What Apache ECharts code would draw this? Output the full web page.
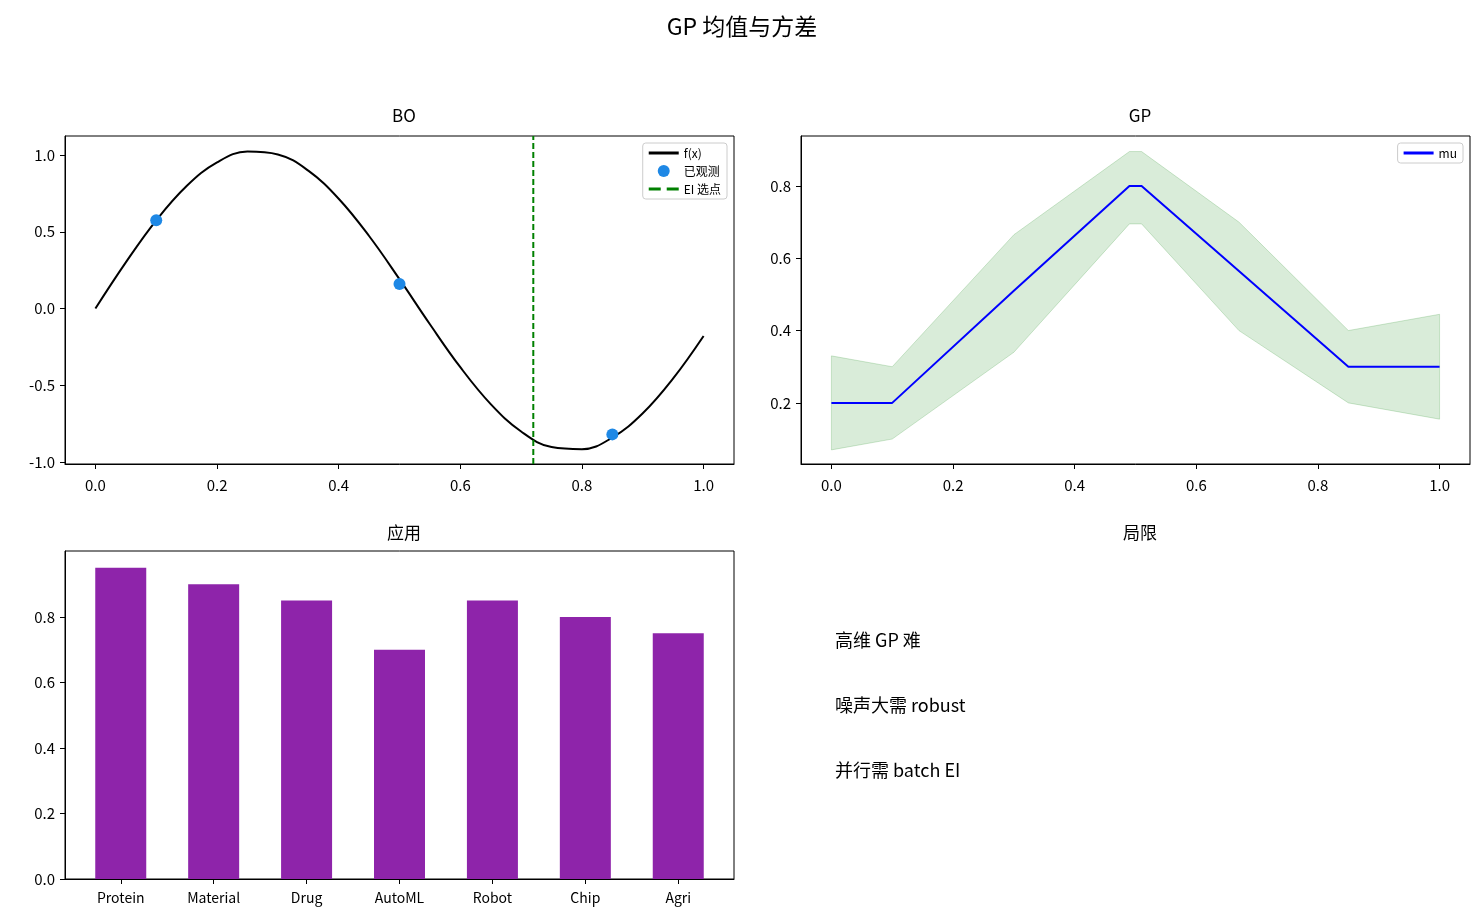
<!DOCTYPE html>
<html><head><meta charset="utf-8">
<script src="https://cdn.jsdelivr.net/npm/echarts@6/dist/echarts.min.js"></script>
<style>html,body{margin:0;padding:0;background:#fff}#c{width:1484px;height:924px}</style>
</head><body><div id="c"></div>
<script>
const fX = [0,0.05,0.1,0.15,0.2,0.25,0.3,0.35,0.4,0.45,0.5,0.55,0.6,0.65,0.7,0.75,0.8,0.85,0.9,0.95,1.0];
const fY = [0,0.3005,0.5746,0.7983,0.952,1.0225,1.0038,0.8982,0.7155,0.4724,0.1911,-0.1027,-0.3825,-0.6228,-0.8016,-0.9025,-0.9162,-0.8408,-0.6828,-0.4557,-0.1794];
const obsX = [0.1,0.5,0.85];
const obsY = [0.575,0.16,-0.82];
const eiX = 0.72;
const gpX = [0,0.1,0.3,0.49,0.51,0.67,0.85,1.0];
const gpMu = [0.2,0.2,0.51,0.8,0.8,0.565,0.3,0.3];
const gpUpper = [0.33,0.30,0.665,0.895,0.895,0.70,0.40,0.445];
const gpLower = [0.07,0.10,0.34,0.695,0.695,0.40,0.20,0.155];
const apps = ['Protein','Material','Drug','AutoML','Robot','Chip','Agri'];
const appVals = [0.95,0.9,0.85,0.7,0.85,0.8,0.75];
const limits = ['高维 GP 难','噪声大需 robust','并行需 batch EI'];

const F = "'Noto Sans CJK SC','Noto Sans',sans-serif";
const lab = {color:'#000',fontSize:15,fontFamily:F,margin:14};
function axX(gi,min,max,vals,fmt,extra){return {type:'value',gridIndex:gi,min:min,max:max,splitLine:{show:false},
  axisLine:{onZero:false,lineStyle:{color:'#000'}},axisTick:{customValues:vals,length:5,lineStyle:{color:'#000'}},
  axisLabel:Object.assign({customValues:vals,formatter:fmt},lab,extra||{})};}
function axY(gi,min,max,vals,fmt){return {type:'value',gridIndex:gi,min:min,max:max,splitLine:{show:false},
  axisLine:{show:true,onZero:false,lineStyle:{color:'#000'}},axisTick:{show:true,length:5,customValues:vals,lineStyle:{color:'#000'}},
  axisLabel:Object.assign({customValues:vals,formatter:fmt},lab,{margin:10})};}
const f1=v=>v.toFixed(1);
const xt=[0,0.2,0.4,0.6,0.8,1.0];
const box={show:true,borderColor:'#000',borderWidth:1};
const ts={fontSize:17,fontWeight:'normal',fontFamily:F,color:'#000'};
const lineIcon='path://M0,0L30,0L30,3L0,3Z';
const dashIcon='path://M0,0L12,0L12,3L0,3ZM18,0L30,0L30,3L18,3Z';
const chart=echarts.init(document.getElementById('c'));
chart.setOption({
 animation:false,
 title:[
  {text:'GP 均值与方差',left:'center',top:10,textStyle:{fontSize:23,fontWeight:'normal',fontFamily:F,color:'#000'}},
  {text:'BO',left:399,textAlign:'center',top:102,textStyle:ts},
  {text:'GP',left:1135,textAlign:'center',top:102,textStyle:ts},
  {text:'应用',left:399,textAlign:'center',top:519,textStyle:ts},
  {text:'局限',left:1135,textAlign:'center',top:519,textStyle:ts}
 ],
 graphic:limits.map((t,i)=>({type:'text',left:835,top:631+65*i,style:{text:t,fontSize:18,fontFamily:F,fill:'#000'}})),
 legend:[
  {data:[{name:'f(x)',icon:lineIcon},{name:'已观测',icon:'circle'},{name:'EI 选点',icon:dashIcon}],orient:'vertical',right:1484-727,top:143,itemGap:6,itemWidth:30,itemHeight:12,
   backgroundColor:'#fff',borderColor:'#ccc',borderWidth:1,borderRadius:3,padding:[4,6],textStyle:{fontSize:12,fontFamily:F,color:'#000'}},
  {data:[{name:'mu',icon:lineIcon}],orient:'vertical',right:1484-1463,top:143,itemWidth:30,itemHeight:12,
   borderColor:'#ccc',borderWidth:1,borderRadius:3,padding:[4,6],textStyle:{fontSize:12,fontFamily:F,color:'#000'}}
 ],
 grid:[
  Object.assign({left:65,top:136,width:669,height:328},box),
  Object.assign({left:801,top:136,width:669,height:328},box),
  Object.assign({left:65,top:551,width:669,height:328},box)
 ],
 xAxis:[
  axX(0,-0.05,1.05,xt,f1),
  axX(1,-0.05,1.05,xt,f1),
  axX(2,-0.6,6.6,[0,1,2,3,4,5,6],v=>apps[Math.round(v)],{fontSize:14,margin:12}),
 ],
 yAxis:[
  axY(0,-1.013,1.124,[-1,-0.5,0,0.5,1],f1),
  axY(1,0.031,0.938,[0.2,0.4,0.6,0.8],f1),
  axY(2,0,1.0015,[0,0.2,0.4,0.6,0.8],f1)
 ],
 series:[
  {name:'f(x)',type:'line',xAxisIndex:0,yAxisIndex:0,smooth:0.4,showSymbol:false,data:fX.map((x,i)=>[x,fY[i]]),lineStyle:{color:'#000',width:2},itemStyle:{color:'#000'}},
  {name:'已观测',type:'scatter',xAxisIndex:0,yAxisIndex:0,symbolSize:12,data:obsX.map((x,i)=>[x,obsY[i]]),itemStyle:{color:'#1e88e5',opacity:1},z:5},
  {name:'EI 选点',type:'line',xAxisIndex:0,yAxisIndex:0,showSymbol:false,data:[[eiX,-1.013],[eiX,1.124]],lineStyle:{color:'green',width:2,type:[6,3]},itemStyle:{color:'green'}},
  {type:'custom',xAxisIndex:1,yAxisIndex:1,data:[[0]],renderItem:(p,api)=>{
     const pts=gpX.map((x,i)=>api.coord([x,gpUpper[i]])).concat(gpX.map((x,i)=>api.coord([x,gpLower[i]])).reverse());
     return {type:'polygon',shape:{points:pts},style:{fill:'rgba(0,128,0,0.15)',stroke:'rgba(0,128,0,0.18)',lineWidth:1}};}},
  {name:'mu',type:'line',xAxisIndex:1,yAxisIndex:1,showSymbol:false,data:gpX.map((x,i)=>[x,gpMu[i]]),lineStyle:{color:'#0000ff',width:2},itemStyle:{color:'#0000ff'},z:4},
  {type:'bar',xAxisIndex:2,yAxisIndex:2,barWidth:51,data:appVals.map((v,i)=>[i,v]),itemStyle:{color:'#8e24aa'}}
 ]
});
</script></body></html>
